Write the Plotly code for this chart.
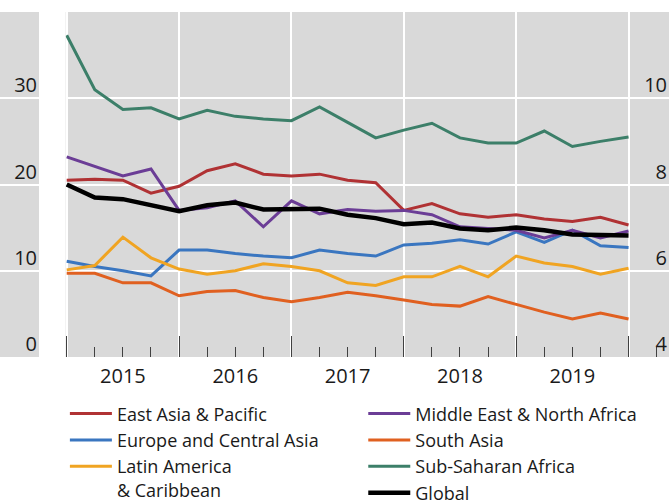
import plotly.graph_objects as go

quarters = list(range(21))
year_labels = ["2015", "2016", "2017", "2018", "2019"]
year_positions = [2, 6, 10, 14, 18]
left_ticks = [0, 10, 20, 30]
right_ticks = [4, 6, 8, 10]

east_asia = [20.5, 20.6, 20.5, 19.0, 19.8, 21.6, 22.4, 21.2, 21.0, 21.2, 20.5,
             20.2, 17.0, 17.8, 16.6, 16.2, 16.5, 16.0, 15.7, 16.2, 15.3]
europe_ca = [11.1, 10.5, 10.0, 9.4, 12.4, 12.4, 12.0, 11.7, 11.5, 12.4, 12.0,
             11.7, 13.0, 13.2, 13.6, 13.1, 14.5, 13.3, 14.7, 12.9, 12.7]
latin_am = [10.1, 10.6, 13.9, 11.5, 10.2, 9.6, 10.0, 10.8, 10.5, 10.0, 8.6,
            8.3, 9.3, 9.3, 10.5, 9.3, 11.7, 10.9, 10.5, 9.6, 10.3]
mena = [23.2, 22.1, 21.0, 21.8, 17.0, 17.3, 18.1, 15.1, 18.1, 16.6, 17.1,
        16.9, 17.0, 16.5, 15.1, 14.9, 14.7, 13.8, 14.7, 13.8, 14.6]
south_asia = [9.7, 9.7, 8.6, 8.6, 7.1, 7.6, 7.7, 6.9, 6.4, 6.9, 7.5,
              7.1, 6.6, 6.1, 5.9, 7.0, 6.1, 5.2, 4.4, 5.1, 4.4]
ssa = [37.3, 31.0, 28.7, 28.9, 27.6, 28.6, 27.9, 27.6, 27.4, 29.0, 27.2,
       25.4, 26.3, 27.1, 25.4, 24.8, 24.8, 26.2, 24.4, 25.0, 25.5]
global_ = [20.0, 18.5, 18.3, 17.6, 16.9, 17.6, 17.9, 17.1, 17.1, 17.2, 16.5,
           16.1, 15.4, 15.6, 14.9, 14.7, 15.0, 14.7, 14.2, 14.1, 14.1]

series = [
    ("East Asia & Pacific", east_asia, "#B03234", 3, "legend"),
    ("Europe and Central Asia", europe_ca, "#3A76C0", 3, "legend"),
    ("Latin America<br>& Caribbean", latin_am, "#F0A422", 3, "legend"),
    ("Middle East & North Africa", mena, "#6B3D96", 3, "legend2"),
    ("South Asia", south_asia, "#E06020", 3, "legend2"),
    ("Sub-Saharan Africa", ssa, "#3C7F69", 3, "legend2"),
    ("Global", global_, "#000000", 4.5, "legend2"),
]

FONT = "Open Sans"
TXT = "#1a1a1a"
GRAY = "#D9D9D9"
TICK = "#404040"

fig = go.Figure()
for name, vals, color, w, lg in series:
    fig.add_trace(go.Scatter(x=quarters, y=vals, name=name, mode="lines",
                             line=dict(color=color, width=w), legend=lg,
                             xaxis="x", yaxis="y"))

# empty helper traces so that every axis / subplot is created
fig.add_trace(go.Scatter(x=[], y=[], xaxis="x3", yaxis="y", showlegend=False, hoverinfo="skip"))
fig.add_trace(go.Scatter(x=[], y=[], xaxis="x2", yaxis="y", showlegend=False, hoverinfo="skip"))
fig.add_trace(go.Scatter(x=[], y=[], xaxis="x", yaxis="y2", showlegend=False, hoverinfo="skip"))

xr = [-0.036, 21.44]

fig.update_layout(
    template="none",
    width=669, height=500,
    margin=dict(l=0, r=0, t=12, b=143, autoexpand=False),
    paper_bgcolor="white", plot_bgcolor=GRAY,
    font=dict(family=FONT, size=20, color=TXT),
    xaxis=dict(domain=[0.0982, 1], range=xr, anchor="y", automargin=False,
               tickmode="linear", tick0=0, dtick=4, showticklabels=False,
               ticks="inside", ticklen=21, tickwidth=1, tickcolor=TICK,
               showgrid=True, gridcolor="white", gridwidth=1.5,
               zeroline=False, showline=False,
               minor=dict(tickmode="linear", dtick=1, tick0=0, ticks="inside", ticklen=10,
                          tickwidth=1, tickcolor=TICK, showgrid=False)),
    xaxis2=dict(overlaying="x", range=xr, anchor="y", side="bottom", automargin=False,
                tickmode="array", tickvals=year_positions, ticktext=year_labels,
                ticks="outside", ticklen=1, tickcolor="rgba(0,0,0,0)",
                showgrid=False, zeroline=False, showline=False,
                tickfont=dict(size=20, family=FONT, color=TXT)),
    xaxis3=dict(domain=[0, 0.0583], range=[0, 1], anchor="y", visible=False,
                showgrid=False, zeroline=False),
    yaxis=dict(domain=[0, 1], range=[0, 40], anchor="free", position=0.0583,
               side="left", automargin=False,
               tickmode="array", tickvals=left_ticks,
               ticklabelposition="outside", ticklabelshift=-13, ticklabelstandoff=2,
               ticks="", showgrid=True, gridcolor="white", gridwidth=1.5,
               zeroline=False, showline=False,
               tickfont=dict(size=20, family=FONT, color=TXT)),
    yaxis2=dict(overlaying="y", range=[4, 12], anchor="free", position=1.0,
                side="left", automargin=False,
                tickmode="array", tickvals=right_ticks,
                ticklabelposition="outside", ticklabelshift=-13, ticklabelstandoff=2,
                ticks="", showgrid=False, zeroline=False, showline=False,
                tickfont=dict(size=20, family=FONT, color=TXT)),
    legend=dict(x=0.097, y=-0.111, xanchor="left", yanchor="top",
                orientation="v", bgcolor="rgba(0,0,0,0)", valign="top",
                font=dict(size=18, family=FONT, color=TXT),
                itemwidth=42, tracegroupgap=0, traceorder="normal"),
    legend2=dict(x=0.543, y=-0.111, xanchor="left", yanchor="top",
                 orientation="v", bgcolor="rgba(0,0,0,0)", valign="top",
                 font=dict(size=18, family=FONT, color=TXT),
                 itemwidth=42, tracegroupgap=0, traceorder="normal"),
    showlegend=True,
)

fig.write_html("out.html", config={"displayModeBar": False},
               post_script="document.body.style.margin='0';document.body.style.padding='0';")
